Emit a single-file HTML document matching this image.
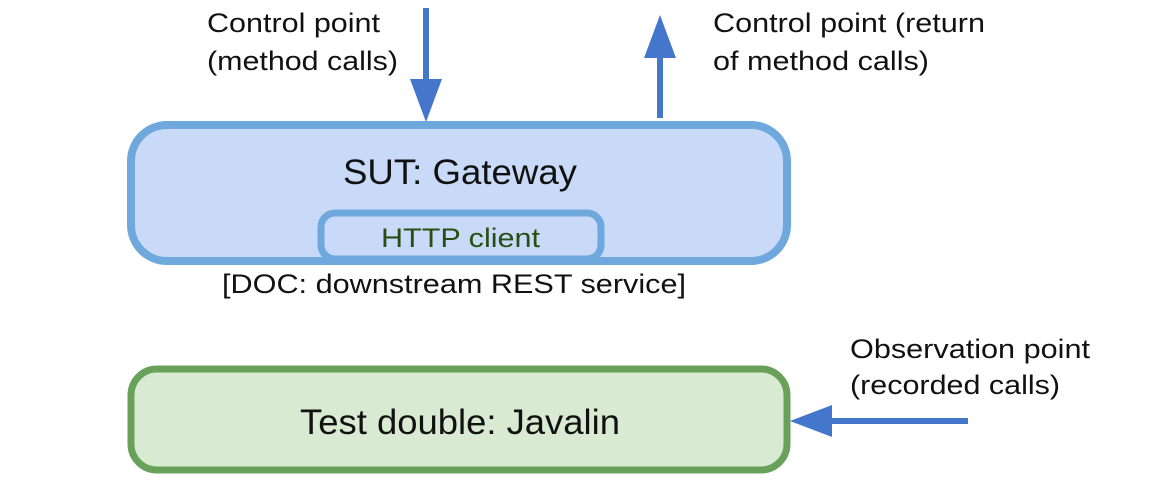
<!DOCTYPE html>
<html><head><meta charset="utf-8"><style>
html,body{margin:0;padding:0;background:#fff;}
svg{display:block;}
text{font-family:"Liberation Sans",Arial,sans-serif;}
</style></head><body>
<svg width="1166" height="480" viewBox="0 0 1166 480" xmlns="http://www.w3.org/2000/svg">
<rect x="131" y="125" width="656" height="136" rx="36" ry="36" fill="#c9daf8" stroke="#6fa8dc" stroke-width="8"/>
<rect x="321" y="213" width="280" height="46" rx="14" ry="14" fill="#c9daf8" stroke="#6fa8dc" stroke-width="7"/>
<rect x="131" y="369" width="656" height="101" rx="26" ry="26" fill="#d9ead3" stroke="#6aa15a" stroke-width="7"/>
<text x="343" y="184" font-size="35" textLength="234" lengthAdjust="spacingAndGlyphs" fill="#111">SUT: Gateway</text>
<text x="381" y="247" font-size="27" textLength="159" lengthAdjust="spacingAndGlyphs" fill="#274e13">HTTP client</text>
<text x="222" y="293" font-size="27" textLength="464" lengthAdjust="spacingAndGlyphs" fill="#111">[DOC: downstream REST service]</text>
<text x="300" y="434" font-size="35" textLength="320" lengthAdjust="spacingAndGlyphs" fill="#111">Test double: Javalin</text>
<text x="207" y="32" font-size="27" textLength="173" lengthAdjust="spacingAndGlyphs" fill="#111">Control point</text>
<text x="207" y="70" font-size="27" textLength="191" lengthAdjust="spacingAndGlyphs" fill="#111">(method calls)</text>
<text x="713" y="32" font-size="27" textLength="272" lengthAdjust="spacingAndGlyphs" fill="#111">Control point (return</text>
<text x="713" y="70" font-size="27" textLength="216" lengthAdjust="spacingAndGlyphs" fill="#111">of method calls)</text>
<text x="850" y="358" font-size="27" textLength="240" lengthAdjust="spacingAndGlyphs" fill="#111">Observation point</text>
<text x="850" y="394" font-size="27" textLength="210" lengthAdjust="spacingAndGlyphs" fill="#111">(recorded calls)</text>
<line x1="426" y1="8" x2="426" y2="82" stroke="#4477cc" stroke-width="6"/>
<polygon points="410,79 442,79 426,122" fill="#4477cc"/>
<line x1="660" y1="55" x2="660" y2="118" stroke="#4477cc" stroke-width="6"/>
<polygon points="644,58 676,58 660,15" fill="#4477cc"/>
<line x1="968" y1="421" x2="828" y2="421" stroke="#4477cc" stroke-width="6"/>
<polygon points="832,405 832,437 790,421" fill="#4477cc"/>
</svg>
</body></html>
